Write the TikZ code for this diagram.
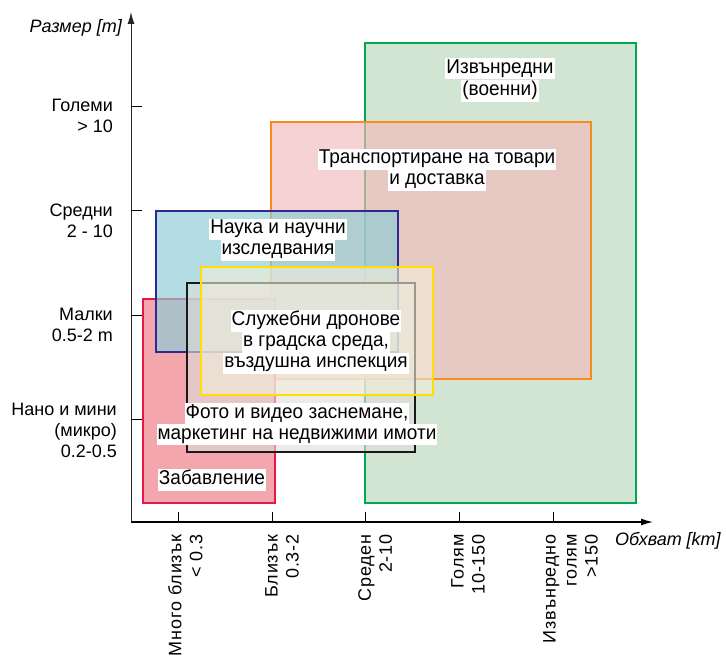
\documentclass[tikz,border=0pt]{standalone}
\usepackage{fontspec}
\setmainfont{Liberation Sans}
\newfontfamily\boxfont[FakeStretch=0.95]{Liberation Sans}
\newfontfamily\tickfont[LetterSpace=5]{Liberation Sans}
\usetikzlibrary{arrows.meta}

\definecolor{zgreen}{RGB}{0,166,81}
\definecolor{zgreenf}{RGB}{209,229,210}
\definecolor{zorange}{RGB}{247,140,28}
\definecolor{zorangef}{RGB}{242,188,188}
\definecolor{zblue}{RGB}{46,40,146}
\definecolor{zbluef}{RGB}{143,204,213}
\definecolor{zred}{RGB}{232,23,74}
\definecolor{zredf}{RGB}{242,162,168}
\definecolor{zyellow}{RGB}{255,222,0}
\definecolor{zyellowf}{RGB}{243,238,218}
\definecolor{zgrayf}{RGB}{222,222,220}

\newcommand{\wl}[1]{{\setlength{\fboxsep}{1pt}\colorbox{white}{\rule[-5pt]{0pt}{19pt}#1}}}

\begin{document}
\begin{tikzpicture}[x=1pt,y=-1pt,
  zone/.style={line width=2.5pt},
  lbl/.style={inner sep=0pt, align=center, font=\boxfont\fontsize{20}{21}\selectfont},
  ylbl/.style={anchor=east, align=right, inner sep=0pt, font=\fontsize{18}{21}\selectfont},
  xlbl/.style={rotate=90, anchor=north east, align=right, inner sep=0pt, font=\tickfont\fontsize{18}{21}\selectfont}]
\useasboundingbox (0,0) rectangle (726,663);

\draw[zone, draw=zgreen, fill=zgreenf] (365,43) rectangle (636,503);
\draw[zone, draw=zorange, fill=zorangef, fill opacity=0.67] (271,122) rectangle (591,379);
\draw[zone, draw=zred, fill=zredf, fill opacity=0.95] (143,299) rectangle (275,503);
\draw[zone, draw=zblue, fill=zbluef, fill opacity=0.67] (156,211) rectangle (398,352);
\draw[zone, draw=black!90, fill=zgrayf, fill opacity=0.6] (187,283) rectangle (415,452);
\draw[zone, draw=zyellow, fill=zyellowf, fill opacity=0.6] (201,267) rectangle (433,395);

\node[lbl] (militar) at (500,80) {\wl{Извънредни}\\\wl{(военни)}};
\node[lbl] (transport) at (437,170) {\wl{Транспортиране на товари}\\\wl{и доставка}};
\node[lbl] (science) at (278,240) {\wl{Наука и научни}\\\wl{изследвания}};
\node[lbl] (service) at (316,342) {\wl{Служебни дронове}\\\wl{в градска среда,}\\\wl{въздушна инспекция}};
\node[lbl] (photo) at (297,424) {\wl{Фото и видео заснемане,}\\\wl{маркетинг на недвижими имоти}};
\node[lbl] (fun) at (212,480) {\wl{Забавление}};

\coordinate (O) at (131,522);
\coordinate (xend) at (653,522);
\coordinate (yend) at (131,12);
\draw[line width=1.3pt, -{Latex[length=12pt,width=7pt]}] (O) -- (xend);
\draw[line width=1pt, black!85, -{Latex[length=12pt,width=7pt]}] (O) -- (yend);
\foreach \y in {106,210,315,419} \draw[thick] (131,\y) -- (142,\y);
\foreach \x in {178,272,365,459,553} \draw[thick] (\x,512) -- (\x,522);

\node[anchor=east, inner sep=0pt, font=\itshape\fontsize{18}{21}\selectfont] (ytitle) at (122,28) {Размер [m]};
\node[anchor=west, inner sep=0pt, font=\itshape\fontsize{18}{21}\selectfont] (xtitle) at (615,541) {Обхват [km]};

\node[ylbl] (big) at (113,116) {Големи\\> 10};
\node[ylbl] (mid) at (113,221) {Средни\\2 - 10};
\node[ylbl] (small) at (113,325) {Малки\\0.5-2 m};
\node[ylbl] (nano) at (117,430) {Нано и мини\\(микро)\\0.2-0.5};

\node[xlbl] (vnear) at (168,534) {Много близък\\< 0.3};
\node[xlbl] (near) at (265,534) {Близък\\0.3-2};
\node[xlbl] (medium) at (358,534) {Среден\\2-10};
\node[xlbl] (large) at (451,534) {Голям\\10-150};
\node[xlbl] (xlarge) at (543,534) {Извънредно\\голям\\>150};
\end{tikzpicture}
\end{document}
